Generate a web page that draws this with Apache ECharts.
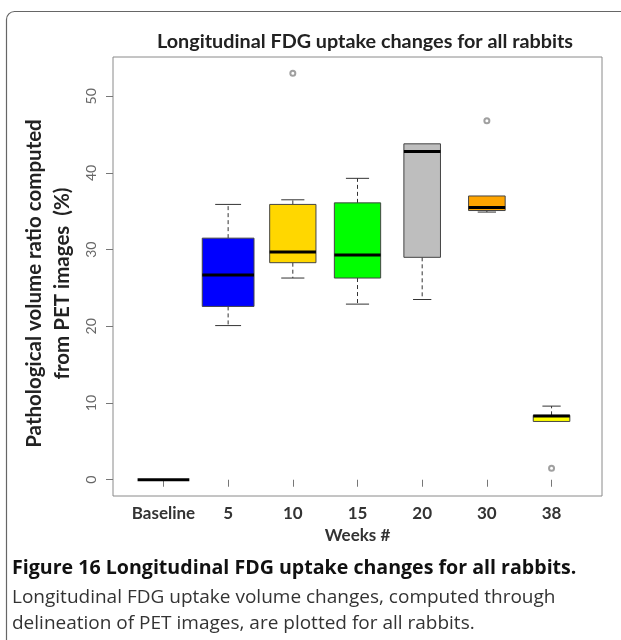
<!DOCTYPE html>
<html>
<head>
<meta charset="utf-8">
<script src="https://cdn.jsdelivr.net/npm/echarts@6/dist/echarts.min.js"></script>
<style>
html,body{margin:0;padding:0;background:#fff;}
#chart{width:621px;height:640px;}
</style>
</head>
<body>
<div id="chart"></div>
<script>
// ---- data ----
var categories = ['Baseline', '5', '10', '15', '20', '30', '38'];
var minValues    = [0, 20.1, 26.3, 22.9, 23.5, 34.9, 7.6];
var q1Values     = [0, 22.6, 28.3, 26.3, 29.0, 35.1, 7.6];
var medianValues = [0, 26.7, 29.7, 29.3, 42.8, 35.5, 8.3];
var q3Values     = [0, 31.5, 35.9, 36.1, 43.8, 37.0, 8.4];
var maxValues    = [0, 35.9, 36.5, 39.3, 43.8, 37.0, 9.6];
var rabbitCounts = [10, 10, 8, 8, 5, 5, 5];
var outlierCategoryIndex = [2, 5, 6];
var outlierValues = [53.0, 46.8, 1.5];
var yTickValues = [0, 10, 20, 30, 40, 50];

// ---- styles ----
var boxColors = ['#000000', '#0000FF', '#FFD700', '#00FF00', '#BEBEBE', '#FFA500', '#FFFF00'];
var chartFont = 'Lato, "Open Sans", sans-serif';
var captionFont = '"Open Sans", "Noto Sans", sans-serif';

var nMax = Math.max.apply(null, rabbitCounts);
var boxData = categories.map(function (c, i) {
  return [i + 1, minValues[i], q1Values[i], medianValues[i], q3Values[i], maxValues[i], rabbitCounts[i], i];
});
var outlierData = outlierCategoryIndex.map(function (ci, k) {
  return [ci + 1, outlierValues[k]];
});
var xTickValues = categories.map(function (c, i) { return i + 1; });

function renderBox(params, api) {
  var x = api.value(0);
  var mn = api.value(1), q1 = api.value(2), md = api.value(3), q3 = api.value(4), mx = api.value(5);
  var n = api.value(6), idx = api.value(7);
  var w = api.size([0.8 * Math.sqrt(n / nMax), 0])[0];
  var pMin = api.coord([x, mn]);
  var pQ1 = api.coord([x, q1]);
  var pMd = api.coord([x, md]);
  var pQ3 = api.coord([x, q3]);
  var pMx = api.coord([x, mx]);
  var cx = pMd[0];
  var children = [];
  var whiskerStyle = { stroke: '#333', lineWidth: 1, lineDash: [4, 3] };
  var capStyle = { stroke: '#333', lineWidth: 1 };
  if (mx > q3) {
    children.push({ type: 'line', shape: { x1: cx, y1: pQ3[1], x2: cx, y2: pMx[1] }, style: whiskerStyle });
    children.push({ type: 'line', shape: { x1: cx - w / 4, y1: pMx[1], x2: cx + w / 4, y2: pMx[1] }, style: capStyle });
  }
  if (mn < q1) {
    children.push({ type: 'line', shape: { x1: cx, y1: pQ1[1], x2: cx, y2: pMin[1] }, style: whiskerStyle });
    children.push({ type: 'line', shape: { x1: cx - w / 4, y1: pMin[1], x2: cx + w / 4, y2: pMin[1] }, style: capStyle });
  }
  if (q3 > q1) {
    children.push({
      type: 'rect',
      shape: { x: cx - w / 2, y: pQ3[1], width: w, height: pQ1[1] - pQ3[1] },
      style: { fill: boxColors[idx], stroke: '#444', lineWidth: 1 }
    });
  }
  children.push({ type: 'line', shape: { x1: cx - w / 2, y1: pMd[1], x2: cx + w / 2, y2: pMd[1] }, style: { stroke: '#000', lineWidth: 3 } });
  return { type: 'group', children: children };
}

var chart = echarts.init(document.getElementById('chart'), null, { renderer: 'canvas' });
chart.setOption({
  backgroundColor: '#fff',
  animation: false,
  textStyle: { fontFamily: chartFont },
  title: {
    text: 'Longitudinal FDG uptake changes for all rabbits',
    left: 360, top: 27, textAlign: 'center',
    textStyle: { fontFamily: chartFont, fontWeight: 'bold', fontSize: 19.8, color: '#222' }
  },
  grid: {
    left: 113, top: 57, width: 489, height: 439,
    show: true, borderColor: '#8a8a8a', borderWidth: 1, backgroundColor: 'transparent'
  },
  xAxis: {
    type: 'value', min: 0.22, max: 7.78,
    axisLine: { show: false },
    splitLine: { show: false },
    axisTick: { show: true, length: 7, customValues: xTickValues, lineStyle: { color: '#777' } },
    axisLabel: {
      customValues: xTickValues, margin: 9,
      formatter: function (v) { return categories[Math.round(v) - 1] || ''; },
      fontFamily: chartFont, fontWeight: 'bold', fontSize: 17, color: '#333'
    },
    name: 'Weeks #', nameLocation: 'middle', nameGap: 29,
    nameTextStyle: { fontFamily: chartFont, fontWeight: 'bold', fontSize: 17, color: '#333' }
  },
  yAxis: {
    type: 'value', min: -2.12, max: 55.12,
    axisLine: { show: false },
    splitLine: { show: false },
    axisTick: { show: true, length: 7, customValues: yTickValues, lineStyle: { color: '#777' } },
    axisLabel: {
      customValues: yTickValues, rotate: 90, margin: 15,
      fontFamily: chartFont, fontSize: 14, color: '#666'
    },
    name: 'Pathological volume ratio computed\nfrom PET images  (%)',
    nameLocation: 'middle', nameGap: 22,
    nameTextStyle: {
      fontFamily: chartFont, fontWeight: 'bold', fontSize: 20.5, color: '#222',
      lineHeight: 28, padding: [0, 14, 0, 0]
    }
  },
  series: [
    {
      type: 'custom',
      renderItem: renderBox,
      encode: { x: 0, y: [1, 2, 3, 4, 5] },
      data: boxData,
      z: 3
    },
    {
      type: 'scatter',
      data: outlierData,
      symbol: 'emptyCircle',
      symbolSize: 5,
      itemStyle: { color: '#888', borderColor: '#888', borderWidth: 1 },
      z: 4
    }
  ],
  graphic: [
    {
      type: 'rect', silent: true,
      shape: { x: 6.5, y: 11.5, width: 800, height: 800, r: 8 },
      style: { fill: 'none', stroke: '#666', lineWidth: 1.2 }
    },
    {
      type: 'text', left: 12, top: 558,
      style: {
        text: 'Figure 16 Longitudinal FDG uptake changes for all rabbits.',
        font: 'bold 19.6px ' + captionFont, fill: '#111'
      }
    },
    {
      type: 'text', left: 12, top: 585,
      style: {
        text: 'Longitudinal FDG uptake volume changes, computed through\ndelineation of PET images, are plotted for all rabbits.',
        font: '19px ' + captionFont, fill: '#333', lineHeight: 26
      }
    }
  ]
});
</script>
</body>
</html>
